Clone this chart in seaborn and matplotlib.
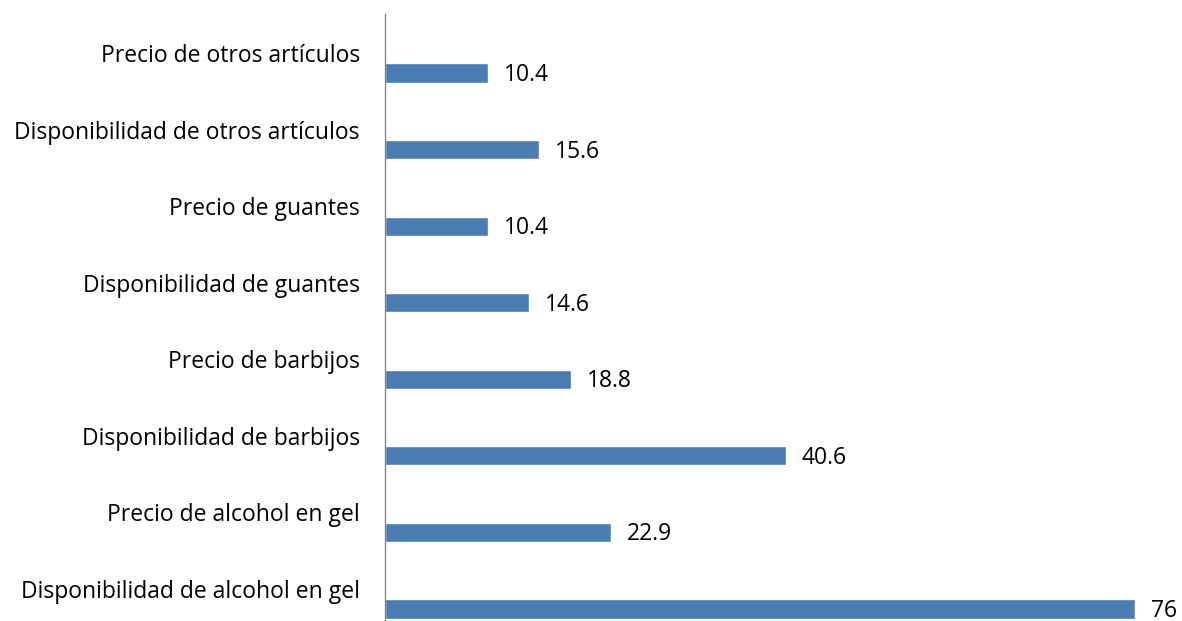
import matplotlib
matplotlib.use("Agg")
import matplotlib.pyplot as plt
import matplotlib.transforms as mtransforms
import seaborn as sns
import pandas as pd

categories = [
    "Precio de otros artículos",
    "Disponibilidad de otros artículos",
    "Precio de guantes",
    "Disponibilidad de guantes",
    "Precio de barbijos",
    "Disponibilidad de barbijos",
    "Precio de alcohol en gel",
    "Disponibilidad de alcohol en gel",
]
values = [10.4, 15.6, 10.4, 14.6, 18.8, 40.6, 22.9, 76]
value_labels = ["10.4", "15.6", "10.4", "14.6", "18.8", "40.6", "22.9", "76"]

df = pd.DataFrame({"cat": categories, "val": values})

sns.set_style("white")
plt.rcParams["font.family"] = ["Open Sans", "DejaVu Sans"]

fig = plt.figure(figsize=(11.82, 6.21), dpi=100)
ax = fig.add_axes([385 / 1182, 0.0, 1 - 385 / 1182, (621 - 14) / 621])

sns.barplot(data=df, x="val", y="cat", orient="h", color="#4a7eb3",
            width=0.25, saturation=1, ax=ax)

ax.set_xlim(0, (1182 - 385) / 9.868)
ax.set_ylim(7 + 0.157, -0.77)

for i, (v, lab) in enumerate(zip(values, value_labels)):
    ax.annotate(lab, xy=(v, i), xytext=(11.5, -1.5), textcoords="offset points",
                ha="left", va="center", fontsize=16.5, color="#000000")

ax.set_xlabel("")
ax.set_ylabel("")
ax.set_xticks([])
ax.tick_params(axis="y", length=0, pad=18, labelsize=16.5, labelcolor="#000000")
offset = mtransforms.ScaledTranslation(0, 14.4 / 72, fig.dpi_scale_trans)
for t in ax.get_yticklabels():
    t.set_transform(t.get_transform() + offset)

for s in ["top", "right", "bottom"]:
    ax.spines[s].set_visible(False)
ax.spines["left"].set_color("#868686")
ax.spines["left"].set_linewidth(1.0)

fig.savefig("out.png", dpi=100)
